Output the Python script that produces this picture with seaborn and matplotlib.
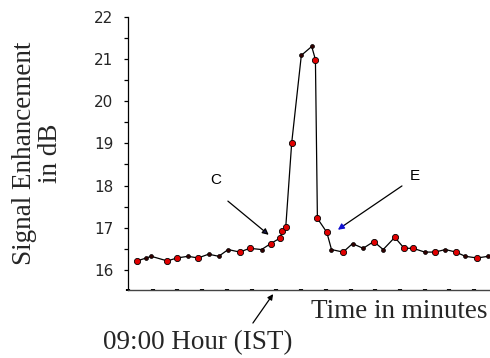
import matplotlib
matplotlib.use("Agg")
import matplotlib.pyplot as plt
import seaborn as sns
import pandas as pd
import numpy as np
from matplotlib.ticker import MultipleLocator

sns.set_theme(style="white")
plt.rcParams['font.family'] = ['Liberation Sans', 'DejaVu Sans']

# Data (time in minutes, signal enhancement in dB)
time_min = [3.6, 7.4, 9.4, 15.9, 19.8, 24.3, 28.3, 32.6, 36.7, 40.5, 45.2, 49.2,
            54.0, 57.7, 61.4, 62.4, 63.8, 66.2, 70.1, 74.3, 75.8, 76.6, 80.4, 82.3,
            87.0, 90.8, 95.1, 99.4, 103.2, 107.9, 111.7, 115.3, 120.0, 124.1, 128.4,
            132.6, 136.4, 141.2, 145.7]
signal_db = [16.21, 16.28, 16.32, 16.21, 16.28, 16.32, 16.28, 16.37, 16.32, 16.48,
             16.42, 16.51, 16.48, 16.62, 16.75, 16.91, 17.01, 19.01, 21.09, 21.30,
             20.99, 17.22, 16.89, 16.48, 16.42, 16.62, 16.51, 16.67, 16.48, 16.77,
             16.51, 16.51, 16.42, 16.42, 16.48, 16.42, 16.32, 16.28, 16.32]
marker_kind = ['r', 'k', 'k', 'r', 'r', 'k', 'r', 'k', 'k', 'k', 'r', 'r', 'k', 'r',
               'r', 'r', 'r', 'r', 'k', 'k', 'r', 'r', 'r', 'k', 'r', 'k', 'k', 'r',
               'k', 'r', 'r', 'r', 'k', 'r', 'k', 'r', 'k', 'r', 'k']
y_ticks = [16, 17, 18, 19, 20, 21, 22]

df = pd.DataFrame({'t': time_min, 's': signal_db, 'kind': marker_kind})

fig = plt.figure(figsize=(4.9, 3.58), dpi=100)
ax = fig.add_axes([128/490, 1-290/358, 361/490, 273/358])

sns.lineplot(data=df, x='t', y='s', ax=ax, color='black', lw=0.9, sort=False)
red = df[df.kind == 'r']
blk = df[df.kind == 'k']
sns.scatterplot(data=red, x='t', y='s', ax=ax, color='#e00000', edgecolor='black',
                linewidth=0.6, s=20, marker='o', zorder=3)
sns.scatterplot(data=blk, x='t', y='s', ax=ax, color='#300000', edgecolor='black',
                linewidth=0.5, s=8, marker='o', zorder=3)

ax.set_xlim(0, 146)
ax.set_ylim(15.52, 22)
ax.yaxis.set_minor_locator(MultipleLocator(0.5))
ax.xaxis.set_major_locator(MultipleLocator(10))
ax.set_yticks(y_ticks)
ax.set_yticklabels([str(v) for v in y_ticks], family=['DejaVu Sans'])
ax.tick_params(axis='y', which='both', direction='out', length=3, width=0.9,
               color='black', labelsize=11, pad=7.5, left=True)
ax.tick_params(axis='x', which='major', direction='inout', length=1.6, width=3,
               color='black', bottom=True, labelbottom=False)
ax.set_xlabel('')
ax.set_ylabel('')

for sp in ['top', 'right']:
    ax.spines[sp].set_visible(False)
ax.spines['left'].set_color('black')
ax.spines['left'].set_linewidth(0.9)
ax.spines['bottom'].set_color('#444444')
ax.spines['bottom'].set_linewidth(1.0)

# annotations C and E
ax.text(35.5, 18.13, 'C', fontsize=11, ha='center', va='center', color='black')
ax.annotate('', xy=(56.9, 16.83), xytext=(40.4, 17.63),
            arrowprops=dict(arrowstyle='-|>', color='black', lw=0.9,
                            mutation_scale=9, shrinkA=0, shrinkB=0,
                            fc='#1a1a50'))
ax.text(116, 18.23, 'E', fontsize=11, ha='center', va='center', color='black')
# black shaft with blue head for E
ax.annotate('', xy=(86.5, 17.02), xytext=(110.8, 17.99),
            arrowprops=dict(arrowstyle='-', color='black', lw=0.9,
                            shrinkA=0, shrinkB=0))
ax.annotate('', xy=(84.9, 16.95), xytext=(87.5, 17.06),
            arrowprops=dict(arrowstyle='-|>', color='#1010d0', lw=0.9,
                            mutation_scale=9, shrinkA=0, shrinkB=0))

serif = ['Liberation Serif', 'DejaVu Serif']
ax.annotate('', xy=(0.402, -0.015), xytext=(0.346, -0.121),
            xycoords='axes fraction', textcoords='axes fraction',
            arrowprops=dict(arrowstyle='-|>', color='black', lw=0.9,
                            mutation_scale=8, shrinkA=0, shrinkB=0),
            annotation_clip=False)
fig.text(198/490, 1-343/358, '09:00 Hour (IST)', family=serif, fontsize=19.5,
         ha='center', va='center')
fig.text(399/490, 1-312/358, 'Time in minutes', family=serif, fontsize=19.5,
         ha='center', va='center')
fig.text(37.5/490, 1-153/358, 'Signal Enhancement\nin dB', family=serif,
         fontsize=19.5, rotation=90, ha='center', va='center', linespacing=1.1,
         multialignment='center')

fig.savefig('out.png', dpi=100)
